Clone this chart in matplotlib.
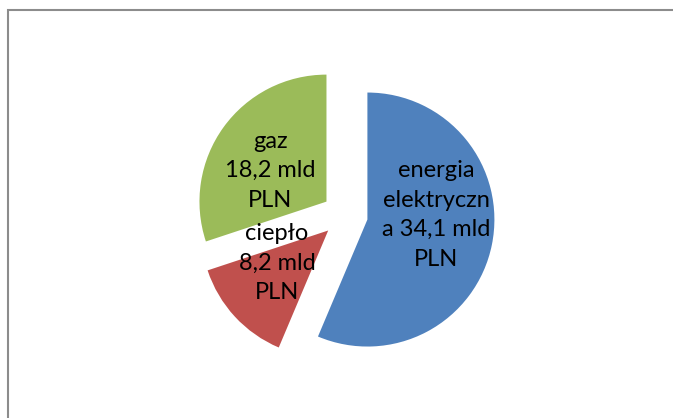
import matplotlib
matplotlib.use('Agg')
import matplotlib.pyplot as plt
from matplotlib.patches import Rectangle

# wartości w mld PLN
labels = ['energia\nelektryczn\na 34,1 mld\nPLN', 'ciepło\n8,2 mld\nPLN', 'gaz\n18,2 mld\nPLN']
values = [34.1, 8.2, 18.2]
colors = ['#4F81BD', '#C0504D', '#9BBB59']
# label block centres (in pie radii, relative to pie centre)
label_pos = [(0.72, 0.0), (-0.535, -0.38), (-0.59, 0.35)]

W, H = 673, 418
fig = plt.figure(figsize=(W / 100, H / 100), dpi=100)

# pie centre at (345, 215) px from top-left, radius 127 px
R = 127
cx, cy = 345, H - 215
half = 1.5 * R
ax = fig.add_axes([(cx - half) / W, (cy - half) / H, 2 * half / W, 2 * half / H])

wedges, texts = ax.pie(values, labels=labels, colors=colors, startangle=90,
                       counterclock=False, explode=[0.18, 0.18, 0.18],
                       labeldistance=0.5,
                       textprops=dict(fontsize=17, family='Lato', color='black'))
for t, p in zip(texts, label_pos):
    t.set_position(p)
    t.set_ha('center')
    t.set_va('center')
    t.set_multialignment('center')
    t.set_linespacing(1.5)

ax.set_xlim(-1.5, 1.5)
ax.set_ylim(-1.5, 1.5)
ax.axis('off')

# ramka wykresu
fig.add_artist(Rectangle((7.5 / W, -0.1), 1.0, 408 / H + 0.1, transform=fig.transFigure,
                         fill=False, ec='#8c8c8c', lw=1.5))

fig.savefig('out.png', dpi=100)
